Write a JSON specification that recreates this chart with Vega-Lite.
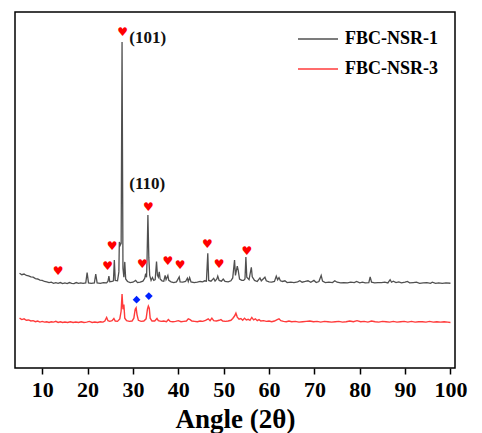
{
  "$schema": "https://vega.github.io/schema/vega-lite/v6.json",
  "width": 440,
  "height": 356,
  "autosize": {"type": "none"},
  "padding": {"left": 15, "top": 12, "right": 27, "bottom": 65},
  "background": "white",
  "config": {
    "view": {"stroke": "black", "strokeWidth": 1.5},
    "font": "Liberation Serif"
  },
  "datasets": {
    "s1": [
      {"a":5.0,"i":26.6},{"a":5.5,"i":26.2},{"a":6.0,"i":26.4},{"a":6.5,"i":26.0},{"a":7.0,"i":25.9},{"a":7.5,"i":25.6},{"a":8.0,"i":25.5},{"a":8.5,"i":25.1},{"a":9.0,"i":25.0},{"a":9.5,"i":24.7},
      {"a":10.0,"i":24.6},{"a":10.5,"i":24.3},{"a":11.0,"i":24.2},{"a":11.5,"i":24.0},{"a":12.0,"i":24.1},{"a":12.5,"i":23.8},{"a":13.0,"i":24.0},{"a":13.5,"i":23.8},{"a":14.0,"i":24.0},{"a":14.5,"i":23.7},
      {"a":15.0,"i":23.9},{"a":15.5,"i":23.7},{"a":16.0,"i":24.0},{"a":16.5,"i":23.8},{"a":17.0,"i":23.7},{"a":17.5,"i":24.0},{"a":18.0,"i":23.8},{"a":18.5,"i":23.9},{"a":19.0,"i":23.8},{"a":19.6,"i":23.9},
      {"a":19.9,"i":26.8},{"a":20.2,"i":23.9},{"a":20.8,"i":23.8},{"a":21.5,"i":23.9},{"a":21.8,"i":26.4},{"a":22.1,"i":23.9},{"a":22.8,"i":23.8},{"a":23.5,"i":24.0},{"a":24.2,"i":23.9},{"a":24.5,"i":24.4},
      {"a":24.7,"i":25.8},{"a":24.9,"i":24.2},{"a":25.4,"i":24.3},{"a":25.7,"i":24.5},{"a":25.9,"i":30.3},{"a":26.1,"i":24.6},{"a":26.6,"i":24.5},{"a":26.9,"i":27.0},{"a":27.0,"i":35.4},{"a":27.2,"i":34.5},
      {"a":27.4,"i":35.0},{"a":27.6,"i":91.6},{"a":27.8,"i":28.0},{"a":28.0,"i":25.5},{"a":28.2,"i":29.8},{"a":28.4,"i":25.0},{"a":28.8,"i":24.3},{"a":29.4,"i":24.0},{"a":30.0,"i":24.1},{"a":30.6,"i":24.6},
      {"a":31.0,"i":24.0},{"a":31.6,"i":24.1},{"a":32.2,"i":24.4},{"a":32.6,"i":25.2},{"a":32.8,"i":26.5},{"a":33.0,"i":25.5},{"a":33.1,"i":30.0},{"a":33.3,"i":43.0},{"a":33.5,"i":31.0},{"a":33.7,"i":26.0},
      {"a":34.0,"i":24.6},{"a":34.3,"i":25.4},{"a":34.6,"i":24.6},{"a":34.9,"i":24.8},{"a":35.2,"i":29.9},{"a":35.4,"i":26.0},{"a":35.6,"i":25.5},{"a":35.8,"i":27.0},{"a":36.0,"i":25.0},{"a":36.4,"i":24.5},
      {"a":36.8,"i":24.4},{"a":37.1,"i":26.0},{"a":37.3,"i":24.8},{"a":37.7,"i":26.0},{"a":37.9,"i":24.6},{"a":38.4,"i":24.2},{"a":39.0,"i":24.0},{"a":39.6,"i":24.2},{"a":40.2,"i":25.6},{"a":40.4,"i":24.2},
      {"a":41.0,"i":24.1},{"a":41.6,"i":24.3},{"a":42.0,"i":25.2},{"a":42.2,"i":24.3},{"a":42.5,"i":25.4},{"a":42.8,"i":24.2},{"a":43.5,"i":24.0},{"a":44.2,"i":24.1},{"a":44.8,"i":24.3},{"a":45.4,"i":24.2},
      {"a":45.8,"i":24.5},{"a":46.2,"i":24.4},{"a":46.5,"i":32.2},{"a":46.7,"i":24.6},{"a":47.2,"i":24.4},{"a":47.8,"i":25.2},{"a":48.1,"i":24.4},{"a":48.5,"i":25.0},{"a":48.7,"i":25.8},{"a":49.0,"i":24.6},
      {"a":49.5,"i":24.4},{"a":49.9,"i":25.0},{"a":50.3,"i":24.3},{"a":51.0,"i":24.2},{"a":51.6,"i":24.5},{"a":52.0,"i":25.3},{"a":52.4,"i":30.3},{"a":52.6,"i":26.0},{"a":53.0,"i":28.6},{"a":53.2,"i":27.5},
      {"a":53.5,"i":25.0},{"a":54.0,"i":24.6},{"a":54.4,"i":24.6},{"a":54.7,"i":25.0},{"a":54.9,"i":31.2},{"a":55.1,"i":25.5},{"a":55.6,"i":24.8},{"a":56.1,"i":28.3},{"a":56.3,"i":25.6},{"a":56.8,"i":24.6},
      {"a":57.4,"i":24.3},{"a":58.0,"i":25.3},{"a":58.3,"i":24.5},{"a":58.7,"i":25.0},{"a":59.1,"i":25.5},{"a":59.4,"i":24.5},{"a":60.0,"i":24.2},{"a":60.6,"i":24.1},{"a":61.2,"i":24.3},{"a":61.6,"i":25.8},
      {"a":61.9,"i":24.8},{"a":62.2,"i":25.4},{"a":62.5,"i":24.5},{"a":63.0,"i":24.3},{"a":63.5,"i":24.5},{"a":64.0,"i":24.0},{"a":64.8,"i":24.1},{"a":65.5,"i":24.0},{"a":66.3,"i":24.2},{"a":66.8,"i":24.5},
      {"a":67.3,"i":24.1},{"a":68.0,"i":24.3},{"a":68.6,"i":24.5},{"a":69.2,"i":24.1},{"a":69.9,"i":24.6},{"a":70.4,"i":24.0},{"a":71.0,"i":24.3},{"a":71.5,"i":26.0},{"a":71.8,"i":24.4},{"a":72.4,"i":24.0},
      {"a":73.2,"i":24.1},{"a":74.0,"i":24.0},{"a":74.5,"i":24.5},{"a":75.0,"i":24.1},{"a":75.8,"i":23.9},{"a":76.5,"i":24.0},{"a":77.3,"i":23.9},{"a":78.0,"i":24.1},{"a":78.8,"i":24.0},{"a":79.3,"i":24.3},
      {"a":80.0,"i":23.9},{"a":80.6,"i":24.1},{"a":81.2,"i":23.9},{"a":82.0,"i":24.0},{"a":82.3,"i":25.6},{"a":82.6,"i":24.1},{"a":83.3,"i":23.9},{"a":84.0,"i":24.0},{"a":84.8,"i":24.0},{"a":85.5,"i":24.1},
      {"a":86.2,"i":23.9},{"a":86.7,"i":24.8},{"a":87.0,"i":24.1},{"a":87.4,"i":24.4},{"a":88.0,"i":24.0},{"a":88.6,"i":24.2},{"a":89.2,"i":23.9},{"a":90.0,"i":24.1},{"a":90.5,"i":24.3},{"a":91.0,"i":23.9},
      {"a":91.8,"i":24.0},{"a":92.5,"i":24.1},{"a":93.2,"i":23.8},{"a":94.0,"i":23.9},{"a":94.8,"i":24.0},{"a":95.6,"i":23.8},{"a":96.0,"i":24.1},{"a":96.7,"i":23.8},{"a":97.4,"i":23.9},{"a":98.2,"i":23.8},
      {"a":99.0,"i":23.9},{"a":100.0,"i":23.8}
    ],
    "s3": [
      {"a":5.0,"i":14.0},{"a":5.5,"i":13.6},{"a":6.0,"i":13.8},{"a":6.5,"i":13.4},{"a":7.0,"i":13.5},{"a":7.5,"i":13.2},{"a":8.0,"i":13.3},{"a":8.5,"i":13.0},{"a":9.0,"i":13.2},{"a":9.5,"i":12.9},
      {"a":10.0,"i":13.1},{"a":10.5,"i":12.9},{"a":11.0,"i":13.0},{"a":11.5,"i":12.8},{"a":12.0,"i":13.0},{"a":12.5,"i":12.9},{"a":13.0,"i":13.1},{"a":13.5,"i":12.8},{"a":14.0,"i":13.0},{"a":14.5,"i":12.8},
      {"a":15.0,"i":12.9},{"a":15.6,"i":12.8},{"a":16.2,"i":13.0},{"a":16.8,"i":12.8},{"a":17.4,"i":12.9},{"a":18.0,"i":12.8},{"a":18.6,"i":13.0},{"a":19.2,"i":12.8},{"a":19.8,"i":12.9},{"a":20.4,"i":13.1},
      {"a":21.0,"i":12.8},{"a":21.6,"i":12.9},{"a":22.2,"i":12.8},{"a":22.8,"i":13.0},{"a":23.4,"i":12.9},{"a":23.8,"i":13.2},{"a":24.2,"i":14.2},{"a":24.5,"i":13.3},{"a":24.9,"i":13.1},{"a":25.4,"i":13.3},
      {"a":25.8,"i":13.9},{"a":26.1,"i":13.2},{"a":26.6,"i":13.1},{"a":27.1,"i":13.8},{"a":27.4,"i":16.0},{"a":27.6,"i":20.8},{"a":27.8,"i":16.5},{"a":28.0,"i":17.8},{"a":28.2,"i":14.0},{"a":28.6,"i":13.3},
      {"a":29.2,"i":13.1},{"a":29.8,"i":13.2},{"a":30.2,"i":14.0},{"a":30.5,"i":16.5},{"a":30.7,"i":16.9},{"a":30.9,"i":15.0},{"a":31.2,"i":13.4},{"a":31.8,"i":13.1},{"a":32.4,"i":13.2},{"a":32.9,"i":13.8},
      {"a":33.2,"i":16.5},{"a":33.4,"i":17.4},{"a":33.6,"i":16.8},{"a":33.8,"i":14.0},{"a":34.2,"i":13.2},{"a":34.8,"i":13.2},{"a":35.3,"i":13.9},{"a":35.6,"i":13.3},{"a":36.2,"i":13.1},{"a":36.8,"i":13.2},
      {"a":37.4,"i":13.0},{"a":37.8,"i":13.6},{"a":38.2,"i":13.1},{"a":38.8,"i":13.0},{"a":39.4,"i":13.1},{"a":40.0,"i":13.3},{"a":40.6,"i":13.0},{"a":41.2,"i":13.1},{"a":41.8,"i":13.2},{"a":42.2,"i":13.8},
      {"a":42.6,"i":13.6},{"a":43.0,"i":13.2},{"a":43.6,"i":13.1},{"a":44.2,"i":13.0},{"a":44.8,"i":13.2},{"a":45.4,"i":13.1},{"a":46.0,"i":13.4},{"a":46.6,"i":13.8},{"a":47.0,"i":13.3},{"a":47.4,"i":14.0},
      {"a":47.8,"i":13.3},{"a":48.4,"i":13.2},{"a":49.0,"i":13.4},{"a":49.4,"i":13.6},{"a":49.8,"i":13.2},{"a":50.4,"i":13.1},{"a":51.0,"i":13.2},{"a":51.6,"i":13.4},{"a":52.0,"i":13.9},{"a":52.4,"i":14.6},
      {"a":52.7,"i":15.4},{"a":53.0,"i":14.3},{"a":53.4,"i":13.7},{"a":53.8,"i":13.9},{"a":54.2,"i":13.4},{"a":54.6,"i":14.0},{"a":55.0,"i":13.5},{"a":55.4,"i":13.7},{"a":55.8,"i":13.4},{"a":56.2,"i":14.2},
      {"a":56.6,"i":13.5},{"a":57.0,"i":13.8},{"a":57.4,"i":13.3},{"a":57.8,"i":13.6},{"a":58.2,"i":13.2},{"a":58.8,"i":13.3},{"a":59.4,"i":13.1},{"a":60.0,"i":13.2},{"a":60.6,"i":13.0},{"a":61.2,"i":13.2},
      {"a":61.8,"i":13.6},{"a":62.2,"i":13.8},{"a":62.6,"i":13.3},{"a":63.2,"i":13.1},{"a":63.8,"i":13.0},{"a":64.4,"i":13.2},{"a":65.0,"i":13.0},{"a":65.8,"i":13.1},{"a":66.6,"i":12.9},{"a":67.4,"i":13.0},
      {"a":68.2,"i":13.1},{"a":69.0,"i":13.2},{"a":69.8,"i":13.0},{"a":70.6,"i":13.1},{"a":71.4,"i":12.9},{"a":72.2,"i":13.1},{"a":73.0,"i":13.0},{"a":73.8,"i":12.9},{"a":74.6,"i":13.0},{"a":75.4,"i":13.1},
      {"a":76.2,"i":12.9},{"a":77.0,"i":13.0},{"a":77.8,"i":13.2},{"a":78.6,"i":13.0},{"a":79.4,"i":13.3},{"a":80.2,"i":13.0},{"a":81.0,"i":13.1},{"a":81.8,"i":12.9},{"a":82.6,"i":13.2},{"a":83.4,"i":13.0},
      {"a":84.2,"i":12.9},{"a":85.0,"i":13.1},{"a":85.8,"i":13.0},{"a":86.6,"i":12.9},{"a":87.4,"i":13.1},{"a":88.2,"i":12.9},{"a":89.0,"i":13.0},{"a":89.8,"i":13.1},{"a":90.6,"i":12.9},{"a":91.4,"i":13.1},
      {"a":92.2,"i":12.9},{"a":93.0,"i":13.0},{"a":93.8,"i":13.0},{"a":94.6,"i":12.9},{"a":95.4,"i":13.1},{"a":96.2,"i":12.9},{"a":97.0,"i":13.0},{"a":97.8,"i":12.9},{"a":98.6,"i":13.0},{"a":99.4,"i":12.9},
      {"a":100.0,"i":12.8}
    ],
    "hearts": [
      {"a":27.7,"i":94.4},{"a":13.5,"i":27.3},{"a":24.4,"i":28.7},{"a":25.4,"i":34.3},{"a":32.1,"i":29.3},{"a":33.4,"i":45.2},
      {"a":37.7,"i":30.0},{"a":40.4,"i":28.9},{"a":46.4,"i":34.8},{"a":49.0,"i":29.3},{"a":55.1,"i":33.0}
    ],
    "diamonds": [
      {"a":30.8,"i":19.2},{"a":33.5,"i":20.2}
    ],
    "labels": [
      {"a":29.2,"i":92.7,"label":"(101)"},{"a":29.2,"i":51.7,"label":"(110)"}
    ]
  },
  "encoding": {
    "x": {
      "field": "a", "type": "quantitative",
      "scale": {"domain": [4, 101], "nice": false, "zero": false},
      "axis": {
        "values": [10,20,30,40,50,60,70,80,90,100],
        "grid": false, "domain": false,
        "tickSize": 6, "tickColor": "black", "tickWidth": 1.5,
        "labelFont": "Liberation Serif", "labelFontSize": 22, "labelFontWeight": "bold", "labelColor": "black", "labelPadding": 5,
        "title": "Angle (2θ)", "titleFont": "Liberation Serif", "titleFontSize": 27, "titleFontWeight": "bold", "titleColor": "black", "titlePadding": 6
      }
    },
    "y": {
      "field": "i", "type": "quantitative",
      "scale": {"domain": [0, 100], "nice": false, "zero": false},
      "axis": null
    }
  },
  "layer": [
    {
      "data": {"name": "s1"},
      "mark": {"type": "line", "strokeWidth": 1.3},
      "encoding": {
        "color": {
          "datum": "FBC-NSR-1", "type": "nominal",
          "scale": {"domain": ["FBC-NSR-1", "FBC-NSR-3"], "range": ["#505050", "#ff3b3b"]},
          "legend": {
            "orient": "none", "legendX": 282, "legendY": 6, "title": null,
            "symbolType": "stroke", "symbolSize": 1600, "symbolStrokeWidth": 1.5,
            "labelFont": "Liberation Serif", "labelFontSize": 18, "labelFontWeight": "bold", "labelColor": "black",
            "labelOffset": 6, "rowPadding": -17
          }
        }
      }
    },
    {
      "data": {"name": "s3"},
      "mark": {"type": "line", "strokeWidth": 1.4},
      "encoding": {"color": {"datum": "FBC-NSR-3", "type": "nominal"}}
    },
    {
      "data": {"name": "hearts"},
      "mark": {"type": "text", "text": "♥", "font": "DejaVu Sans", "fontSize": 12, "color": "#ff0000", "baseline": "middle", "align": "center"}
    },
    {
      "data": {"name": "diamonds"},
      "mark": {"type": "point", "shape": "diamond", "filled": true, "color": "#0022ff", "size": 60, "opacity": 1}
    },
    {
      "data": {"name": "labels"},
      "mark": {"type": "text", "font": "Liberation Serif", "fontSize": 17, "fontWeight": "bold", "color": "#111111", "align": "left", "baseline": "middle"},
      "encoding": {"text": {"field": "label"}}
    }
  ]
}
